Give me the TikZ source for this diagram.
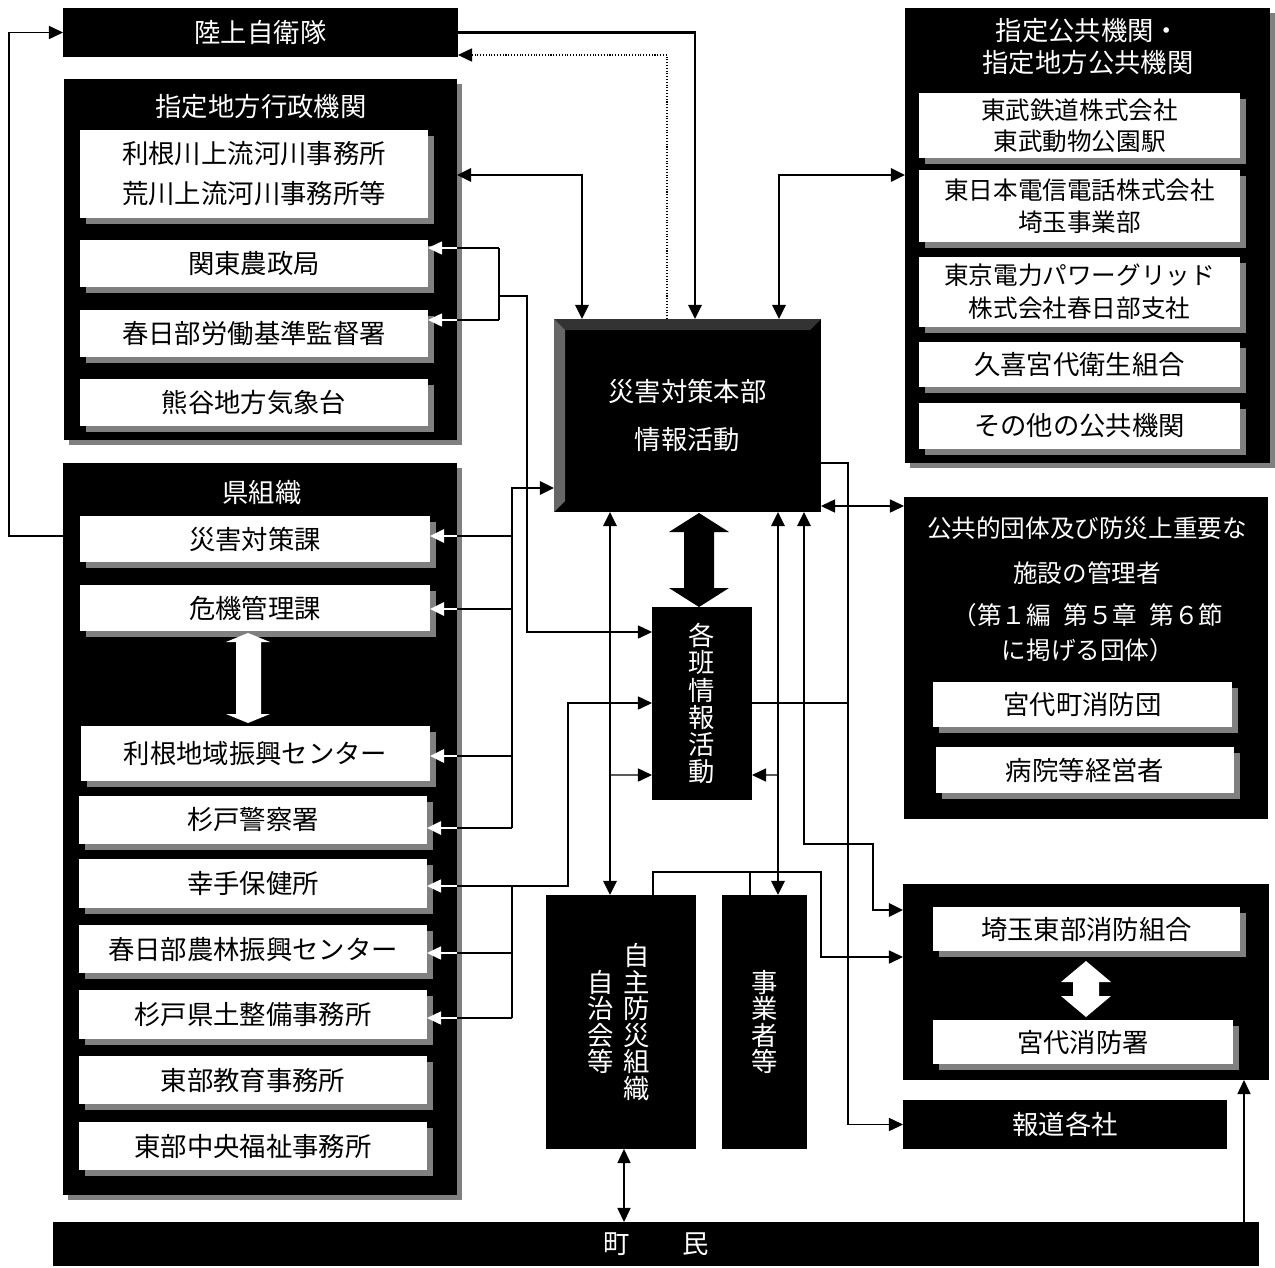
\documentclass[tikz,border=0pt]{standalone}
\usepackage{fontspec}
\setmainfont{Noto Sans CJK JP}
\usepackage{tikz}
\usetikzlibrary{arrows.meta, positioning, calc, shadows}

\tikzset{
  boxsize/.style 2 args={minimum width=#1*0.02cm, minimum height=#2*0.02cm},
  blackbox/.style={fill=black, inner sep=0pt, outer sep=0pt, text=white, align=center},
  groupbox/.style={blackbox, drop shadow={shadow xshift=0.1cm, shadow yshift=-0.1cm, opacity=1, fill=gray}},
  whitebox/.style={fill=white, inner sep=0pt, outer sep=0pt, text=black, align=center,
    drop shadow={shadow xshift=0.12cm, shadow yshift=-0.12cm, opacity=1, fill=gray}},
  whitetext/.style={text=white, align=center, inner sep=0pt},
  thickline/.style={line width=1.3pt},
  thinline/.style={line width=0.6pt},
  onearrow/.style={-{Triangle[length=8pt,width=7.5pt]}},
  twoarrow/.style={{Triangle[length=8pt,width=7.5pt]}-{Triangle[length=8pt,width=7.5pt]}},
  whitearrow/.style={white, -{Triangle[length=8pt,width=7.5pt]}},
}

\begin{document}
\begin{tikzpicture}[x=0.02cm, y=-0.02cm, font=\fontsize{15}{18}\selectfont]
\useasboundingbox (0,0) rectangle (1275,1268);

\node[blackbox, boxsize={395}{49}] (jsdf) at (260.5,32.5) {陸上自衛隊};

\node[groupbox, boxsize={393}{361}] (chihou) at (260.5,259.5) {};
\node[whitetext] (chihoutitle) at (261,107) {指定地方行政機関};
\node[whitebox, boxsize={348}{88}, font=\fontsize{15}{22.7}\selectfont] (tone) at (254,174) {利根川上流河川事務所\\荒川上流河川事務所等};
\node[whitebox, boxsize={348}{47}] (kantou) at (254,263.5) {関東農政局};
\node[whitebox, boxsize={348}{47}] (roudou) at (254,333.5) {春日部労働基準監督署};
\node[whitebox, boxsize={348}{47}] (kishou) at (254,402.5) {熊谷地方気象台};

\node[groupbox, boxsize={394}{732}] (ken) at (260,829) {};
\node[whitetext] (kentitle) at (262,493) {県組織};
\node[whitebox, boxsize={350}{46}] (saigai) at (255,539) {災害対策課};
\node[whitebox, boxsize={350}{46}] (kiki) at (255,608) {危機管理課};
\node[whitebox, boxsize={349}{55}] (tonechiiki) at (255.5,753.5) {利根地域振興センター};
\node[whitebox, boxsize={348}{48}] (keisatsu) at (253,820) {杉戸警察署};
\node[whitebox, boxsize={348}{49}] (hoken) at (253,883.5) {幸手保健所};
\node[whitebox, boxsize={348}{48}] (nourin) at (253,949) {春日部農林振興センター};
\node[whitebox, boxsize={348}{49}] (doboku) at (253,1014.5) {杉戸県土整備事務所};
\node[whitebox, boxsize={348}{48}] (kyouiku) at (253,1080) {東部教育事務所};
\node[whitebox, boxsize={348}{48}] (fukushi) at (253,1146) {東部中央福祉事務所};

\fill[white] (248,633) -- (270,642) -- (261,642) -- (261,714) -- (270,714) -- (248,723) -- (226,714) -- (236,714) -- (236,642) -- (226,642) -- cycle;

\node[blackbox, boxsize={267}{193}, font=\fontsize{15}{27.8}\selectfont] (hq) at (687.5,415.5) {災害対策本部\\情報活動};
\fill[black!80] (hq.north west) -- (hq.north east) -- ++(-11,11) -- ($(hq.north west)+(11,11)$) -- cycle;
\fill[black!60] (hq.north west) -- ($(hq.north west)+(11,11)$) -- ($(hq.south west)+(11,-11)$) -- (hq.south west) -- cycle;

\node[blackbox, boxsize={100}{193}, font=\fontsize{15}{15.4}\selectfont] (kakuhan) at (702,703.5) {各\\班\\情\\報\\活\\動};

\node[groupbox, boxsize={365}{455}] (shiteikokyo) at (1087.5,235.5) {};
\node[whitetext, font=\fontsize{15}{18.7}\selectfont] (shiteititle) at (1088,46.5) {指定公共機関・\\指定地方公共機関};
\node[whitebox, boxsize={321}{65}, font=\fontsize{14}{17.6}\selectfont] (toubu) at (1079.5,125.5) {東武鉄道株式会社\\東武動物公園駅};
\node[whitebox, boxsize={321}{72}, font=\fontsize{14}{18.2}\selectfont] (ntt) at (1079.5,206) {東日本電信電話株式会社\\埼玉事業部};
\node[whitebox, boxsize={321}{70}, font=\fontsize{14}{18.7}\selectfont] (tepco) at (1079.5,292) {東京電力パワーグリッド\\株式会社春日部支社};
\node[whitebox, boxsize={321}{45}] (eisei) at (1079.5,364.5) {久喜宮代衛生組合};
\node[whitebox, boxsize={321}{46}] (sonota) at (1079.5,426) {その他の公共機関};

\node[blackbox, boxsize={364}{322}] (kokyoteki) at (1086,658) {};
\node[whitetext, font=\fontsize{14}{25.5}\selectfont] (kokyotitle) at (1087,550.5) {公共的団体及び防災上重要な\\施設の管理者};
\node[whitetext, font=\fontsize{14}{19.8}\selectfont] (kokyonote) at (1088,632.5) {（第１編\enspace 第５章\enspace 第６節\\に掲げる団体）};
\node[whitebox, boxsize={299}{45}] (shoubodan) at (1082.5,704.5) {宮代町消防団};
\node[whitebox, boxsize={298}{46}] (byouin) at (1085,770) {病院等経営者};

\node[blackbox, boxsize={366}{196}] (shoubo) at (1086,982) {};
\node[whitebox, boxsize={307}{44}] (tobu) at (1086.5,929) {埼玉東部消防組合};
\node[whitebox, boxsize={300}{44}] (miyashiro) at (1083,1042) {宮代消防署};
\fill[white] (1086,961) -- (1111,982) -- (1099,982) -- (1099,996) -- (1111,996) -- (1086,1017) -- (1061,996) -- (1073,996) -- (1073,982) -- (1061,982) -- cycle;

\node[blackbox, boxsize={324}{49}] (houdou) at (1065,1124.5) {報道各社};

\node[blackbox, boxsize={150}{254}] (jishu) at (621,1022) {};
\node[whitetext, font=\fontsize{15}{15.1}\selectfont] (jishutxt) at ($(jishu.center)+(16,0)$) {自\\主\\防\\災\\組\\織};
\node[whitetext, font=\fontsize{15}{15.1}\selectfont] (jichitxt) at ($(jishu.center)+(-20,0)$) {自\\治\\会\\等};
\node[blackbox, boxsize={85}{254}, font=\fontsize{15}{15.1}\selectfont] (jigyou) at (764.5,1022) {事\\業\\者\\等};

\node[blackbox, boxsize={1206}{44}] (chomin) at (656,1244) {町　　民};

% 陸上自衛隊
\draw[thinline, onearrow] ($(ken.north west)+(0,73)$) -- ++(-54,0) |- (jsdf.west);
\draw[thickline, onearrow] (jsdf.east) -| ($(hq.north west)+(141,0)$);
\draw[thinline, densely dotted, onearrow] ($(hq.north west)+(113,0)$) |- ($(jsdf.south east)+(0,-2)$);

% 指定地方行政機関
\draw[thickline, twoarrow] ($(chihou.north east)+(0,96)$) -| ($(hq.north west)+(28,0)$);
\coordinate (chbus) at (499,0);
\foreach \nm/\dy in {kantou/8, roudou/10}{
  \coordinate (tipb) at ($(\nm.north east)+(0,\dy)$);
  \draw[thinline] (tipb -| chbus) -- (tipb -| chihou.east);
  \draw[thinline, whitearrow] (tipb -| chihou.east) -- (tipb);
}
\draw[thinline] ($(kantou.north east)+(71,8)$) -- ($(roudou.north east)+(71,10)$);
\draw[thinline, onearrow] (499,296) -| (527,632) -- ($(kakuhan.north west)+(0,25)$);

% 指定公共機関
\draw[thickline, twoarrow] ($(hq.north west)+(225,0)$) |- ($(shiteikokyo.north west)+(0,167)$);

% 県組織
\coordinate (kbus) at (512,0);
\foreach \nm/\dy in {saigai/20, kiki/24, tonechiiki/30, keisatsu/32}{
  \coordinate (tipk) at ($(\nm.north east)+(0,\dy)$);
  \draw[thickline] (tipk -| kbus) -- (tipk -| ken.east);
  \draw[thickline, whitearrow] (tipk -| ken.east) -- (tipk);
}
\draw[thickline, onearrow] (512,828) |- ($(hq.north west)+(0,169)$);
\foreach \nm/\dy in {hoken/27, nourin/28, doboku/28}{
  \coordinate (tipk) at ($(\nm.north east)+(0,\dy)$);
  \draw[thinline] (tipk -| kbus) -- (tipk -| ken.east);
  \draw[thinline, whitearrow] (tipk -| ken.east) -- (tipk);
}
\draw[thinline] (512,886) -- (512,1018);
\draw[thinline, onearrow] (512,886) -| (568,703) -- ($(kakuhan.north west)+(0,96)$);

% 災害対策本部 <-> 各班情報活動
\fill (699,513) -- (729,532) -- (714,532) -- (714,588) -- (729,588) -- (699,607) -- (669,588) -- (684,588) -- (684,532) -- (669,532) -- cycle;

\draw[thickline, twoarrow] ($(hq.south west)+(56,0)$) -- ($(jishu.north west)+(64,0)$);
\draw[thinline, onearrow] (610,775) -- ($(kakuhan.south west)+(0,-25)$);
\draw[thickline, twoarrow] ($(hq.south west)+(224,0)$) -- ($(jigyou.north west)+(56,0)$);
\draw[thinline, onearrow] (778,775) -- ($(kakuhan.south east)+(0,-25)$);
\draw[thickline, twoarrow] ($(hq.south west)+(250,0)$) -- (804,844) -| (873,910) -- ($(shoubo.north west)+(0,26)$);

% 報道各社
\draw[thinline, onearrow] ($(hq.north east)+(0,144)$) -| ($(houdou.west)+(-55,0)$) -- (houdou.west);
\draw[thinline] ($(kakuhan.north east)+(0,96)$) -- (848,703);

% 公共的団体
\draw[thinline, twoarrow] ($(hq.north east)+(0,187)$) -- ($(kokyoteki.north west)+(0,9)$);

% 自主防災組織・事業者等 -> 消防
\draw[thinline, onearrow] ($(jishu.north west)+(107,0)$) |- (821,872) |- ($(shoubo.north west)+(0,73)$);
\draw[thinline] ($(jigyou.north west)+(28,0)$) -- (750,872);

% 町民
\draw[thinline, twoarrow] ($(jishu.south west)+(78,0)$) -- ($(chomin.north west)+(571,0)$);
\draw[thinline, onearrow] ($(chomin.north west)+(1191,0)$) -- ($(shoubo.south west)+(341,0)$);
\end{tikzpicture}
\end{document}
